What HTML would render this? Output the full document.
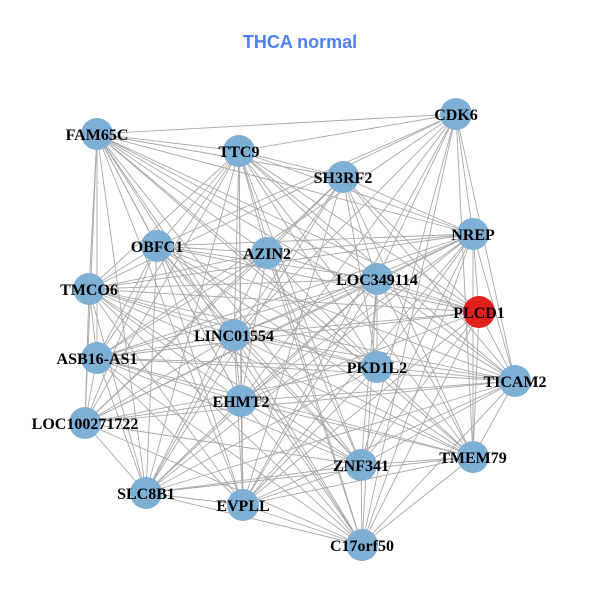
<!DOCTYPE html>
<html><head><meta charset="utf-8"><style>
html,body{margin:0;padding:0;background:#fff;}
svg{display:block;}
</style></head><body>
<svg id="g" width="600" height="600" xmlns="http://www.w3.org/2000/svg">
<rect width="600" height="600" fill="#fff"/>
<text x="300" y="48" text-anchor="middle" font-family="Liberation Sans, sans-serif" font-weight="bold" font-size="18" fill="#4f7fef">THCA normal</text>
<g id="edges" stroke="#a8a8a8" stroke-width="0.9"></g>
<g id="nodes"></g>
<g id="labels" font-family="Liberation Serif, serif" font-weight="bold" font-size="16" fill="#000" text-anchor="middle"></g>
</svg>
<script>
var N=[["CDK6",456,114],["FAM65C",97,134],["TTC9",239,151],["SH3RF2",343,177],["NREP",473,234],["OBFC1",157,246],["AZIN2",267,253],["LOC349114",377,279],["TMCO6",89,289],["PLCD1",479,312],["LINC01554",234,335],["ASB16-AS1",97,358],["PKD1L2",377,367],["TICAM2",515,381],["EHMT2",241,401],["LOC100271722",85,423],["TMEM79",473,457],["ZNF341",361,465],["SLC8B1",146,493],["EVPLL",243,505],["C17orf50",362,545]];
var ns="http://www.w3.org/2000/svg",E=document.getElementById("edges"),Nd=document.getElementById("nodes"),L=document.getElementById("labels");
for(var i=0;i<N.length;i++)for(var j=i+1;j<N.length;j++){
 if((i*7+j*3)%9==0)continue;
 var l=document.createElementNS(ns,"line");
 l.setAttribute("x1",N[i][1]);l.setAttribute("y1",N[i][2]);l.setAttribute("x2",N[j][1]);l.setAttribute("y2",N[j][2]);E.appendChild(l);}
N.forEach(function(n){
 var c=document.createElementNS(ns,"circle");c.setAttribute("cx",n[1]);c.setAttribute("cy",n[2]);c.setAttribute("r",16);
 c.setAttribute("fill",n[0]=="PLCD1"?"#e0201c":"#7eb0d5");Nd.appendChild(c);
 var t=document.createElementNS(ns,"text");t.setAttribute("x",n[1]);t.setAttribute("y",n[2]+6);t.textContent=n[0];L.appendChild(t);});
</script>
</body></html>
